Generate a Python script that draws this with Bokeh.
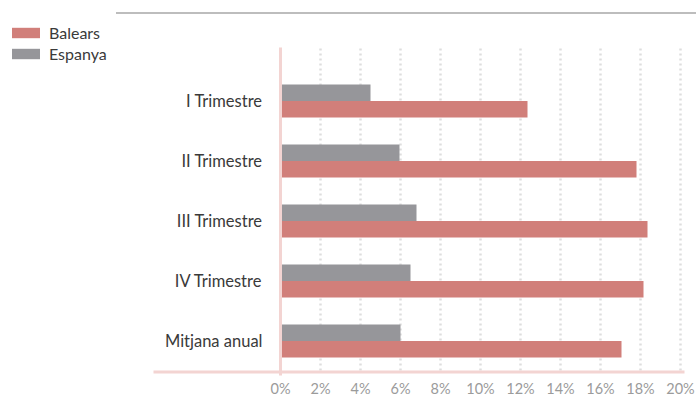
import numpy as np
from bokeh.plotting import figure
from bokeh.models import Range1d, FixedTicker, Legend, LegendItem, ColumnDataSource
from bokeh.core.properties import value
from bokeh.embed import file_html
from bokeh.resources import INLINE

# ---- data ----
categories = ["I Trimestre", "II Trimestre", "III Trimestre", "IV Trimestre", "Mitjana anual"]
balears = [12.35, 17.8, 18.35, 18.15, 17.05]
espanya = [4.5, 5.95, 6.8, 6.5, 6.0]
x_ticks = [0, 2, 4, 6, 8, 10, 12, 14, 16, 18, 20]
tick_labels = ["0%", "2%", "4%", "6%", "8%", "10%", "12%", "14%", "16%", "18%", "20%"]
series_names = ["Balears", "Espanya"]

FONT = "Lato"
RED = "#d17f7a"
GRAY = "#96969a"
PINK = "#f3d4d2"

ypos = np.arange(len(categories))[::-1].astype(float)  # top category highest
bar_h = 0.275

src = ColumnDataSource(dict(
    cat=categories, y=ypos,
    y_bal=ypos - bar_h / 2, y_esp=ypos + bar_h / 2,
    bal=balears, esp=espanya,
))

p = figure(width=696, height=401, output_backend="svg", toolbar_location=None,
           x_range=Range1d(-14.0, 20.8), y_range=Range1d(-0.575, 5.675),
           min_border=0, min_border_left=0, min_border_right=0, min_border_top=0,
           min_border_bottom=26, outline_line_color=None)
p.yaxis.visible = False
p.xgrid.visible = False
p.ygrid.visible = False

xa = p.xaxis[0]
xa.ticker = FixedTicker(ticks=x_ticks)
xa.major_label_overrides = {t: l for t, l in zip(x_ticks, tick_labels)}
xa.axis_line_color = None
xa.major_tick_line_color = None
xa.minor_tick_line_color = None
xa.major_tick_out = 0
xa.major_tick_in = 0
xa.major_label_standoff = 4
xa.major_label_text_font = FONT
xa.major_label_text_font_size = "14.5px"
xa.major_label_text_color = "#9b9b9b"

# top grey rule (title underline)
p.segment(x0=[-8.225], x1=[20.8], y0=[5.4667], y1=[5.4667], line_color="#bdbdbd", line_width=2)

# dotted vertical grid lines
gx = x_ticks[1:]
p.segment(x0=gx, x1=gx, y0=[4.875] * len(gx), y1=[-0.525] * len(gx),
          line_color="#dedede", line_width=2.5, line_dash="2 3")

# bars
r_bal = p.hbar(y="y_bal", right="bal", left=0, height=bar_h, source=src,
               fill_color=RED, line_color=None)
r_esp = p.hbar(y="y_esp", right="esp", left=0, height=bar_h, source=src,
               fill_color=GRAY, line_color=None)

# axis-like pink lines
p.segment(x0=[-6.35], x1=[20.2], y0=[-0.5167], y1=[-0.5167], line_color=PINK, line_width=3)
p.segment(x0=[0], x1=[0], y0=[4.8917], y1=[-0.6583], line_color=PINK, line_width=3)

# category labels
p.text(x=-0.9, y="y", text="cat", source=src, text_align="right", text_baseline="middle",
       text_font=value(FONT), text_font_size="16.5px", text_color="#3a3a3a")

legend = Legend(items=[LegendItem(label=series_names[0], renderers=[r_bal]),
                       LegendItem(label=series_names[1], renderers=[r_esp])],
                location=(8, 312), padding=0, margin=0, spacing=1,
                glyph_width=35, glyph_height=13, label_height=20, label_standoff=6,
                label_text_font=FONT, label_text_font_size="16px", label_text_color="#3a3a3a",
                border_line_color=None, background_fill_alpha=0)
p.add_layout(legend)

open("out.html", "w").write(file_html(p, INLINE))
